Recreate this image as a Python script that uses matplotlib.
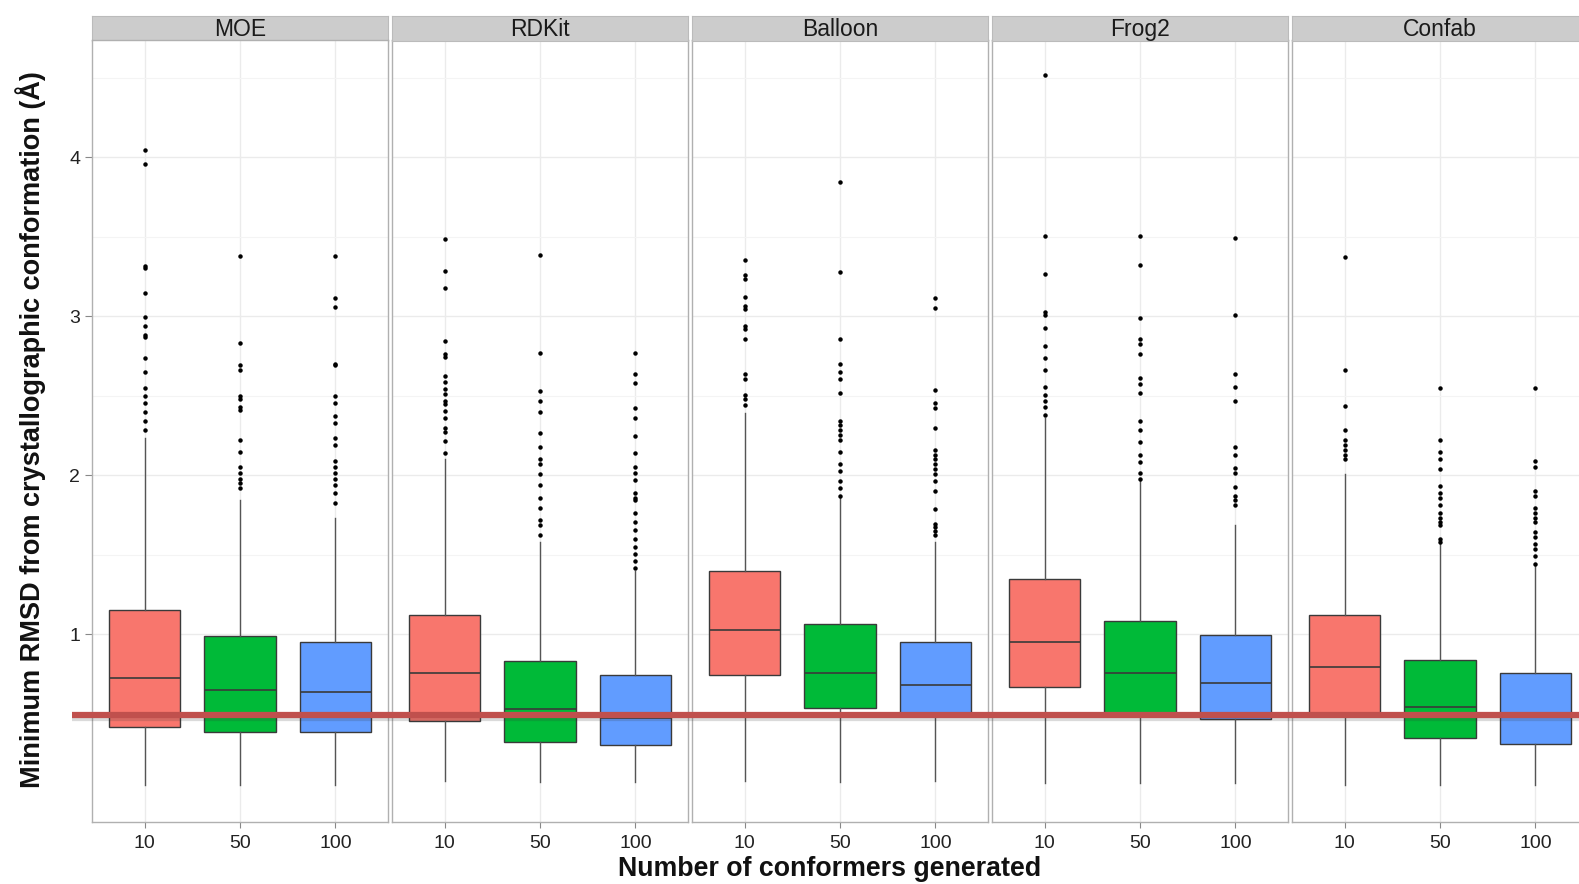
import matplotlib
matplotlib.use('Agg')
import matplotlib.pyplot as plt
import matplotlib.transforms as mtransforms
import matplotlib.patheffects as pe

plt.rcParams['font.family'] = ['Liberation Sans', 'DejaVu Sans']

methods = ['MOE', 'RDKit', 'Balloon', 'Frog2', 'Confab']
n_conf = ['10', '50', '100']
colors = ['#F8766D', '#00BA38', '#619CFF']

# box stats per method, order 10 / 50 / 100
q1 = [[0.416, 0.382, 0.382], [0.453, 0.322, 0.300], [0.742, 0.538, 0.490],
      [0.666, 0.490, 0.468], [0.490, 0.346, 0.309]]
med = [[0.721, 0.651, 0.636], [0.758, 0.529, 0.470], [1.026, 0.755, 0.681],
       [0.953, 0.755, 0.690], [0.794, 0.544, 0.480]]
q3 = [[1.154, 0.986, 0.953], [1.120, 0.831, 0.740], [1.398, 1.062, 0.947],
      [1.349, 1.084, 0.992], [1.118, 0.834, 0.752]]
whis_lo = [[0.05, 0.05, 0.05], [0.078, 0.07, 0.07], [0.078, 0.07, 0.078],
           [0.065, 0.065, 0.065], [0.05, 0.05, 0.05]]
whis_hi = [[2.236, 1.846, 1.733], [2.099, 1.581, 1.398], [2.389, 1.870, 1.581],
           [2.358, 1.968, 1.687], [2.007, 1.565, 1.428]]

moe_out = [
    [4.047, 3.958, 3.312, 3.303, 3.145, 2.992, 2.937, 2.882, 2.87, 2.739,
     2.648, 2.550, 2.495, 2.45, 2.395, 2.337, 2.282],
    [3.379, 2.83, 2.693, 2.663, 2.495, 2.48, 2.43, 2.41, 2.221, 2.145,
     2.053, 2.014, 1.977, 1.947, 1.916],
    [3.379, 3.111, 3.059, 2.70, 2.69, 2.50, 2.45, 2.373, 2.328, 2.236, 2.19,
     2.09, 2.053, 2.014, 1.977, 1.937, 1.886, 1.825],
]
rdkit_out = [
    [3.486, 3.282, 3.178, 2.846, 2.760, 2.74, 2.623, 2.587, 2.541, 2.51,
     2.465, 2.444, 2.404, 2.358, 2.297, 2.272, 2.212, 2.136],
    [3.385, 2.77, 2.526, 2.465, 2.395, 2.267, 2.175, 2.099, 2.068, 2.007,
     1.937, 1.855, 1.794, 1.718, 1.687, 1.62],
    [2.77, 2.638, 2.578, 2.419, 2.358, 2.245, 2.138, 2.053, 2.014, 1.968,
     1.886, 1.855, 1.84, 1.764, 1.703, 1.657, 1.596, 1.55, 1.504, 1.459, 1.413],
]
balloon_out = [
    [3.355, 3.257, 3.236, 3.12, 3.065, 3.044, 2.937, 2.916, 2.855, 2.638,
     2.602, 2.501, 2.48, 2.443],
    [3.843, 3.279, 2.855, 2.70, 2.648, 2.602, 2.516, 2.343, 2.312, 2.282,
     2.252, 2.221, 2.145, 2.068, 2.023, 1.962, 1.916, 1.87],
    [3.114, 3.053, 2.532, 2.45, 2.419, 2.297, 2.16, 2.129, 2.099, 2.068,
     2.038, 2.007, 1.962, 1.901, 1.785, 1.694, 1.672, 1.651, 1.626],
]
frog2_out = [
    [4.516, 3.501, 3.264, 3.023, 3.008, 2.922, 2.809, 2.733, 2.663, 2.556,
     2.501, 2.465, 2.425, 2.379],
    [3.501, 3.318, 2.989, 2.855, 2.821, 2.760, 2.608, 2.572, 2.516, 2.343,
     2.282, 2.206, 2.129, 2.084, 2.014, 1.977],
    [3.492, 3.004, 2.638, 2.556, 2.465, 2.175, 2.129, 2.044, 2.014, 1.925,
     1.87, 1.84, 1.81],
]
confab_out = [
    [3.37, 2.663, 2.435, 2.282, 2.221, 2.19, 2.16, 2.129, 2.099],
    [2.547, 2.221, 2.145, 2.099, 2.038, 1.931, 1.886, 1.855, 1.81, 1.764,
     1.733, 1.703, 1.687, 1.596, 1.581],
    [2.547, 2.09, 2.053, 1.901, 1.87, 1.794, 1.764, 1.733, 1.703, 1.642,
     1.611, 1.565, 1.535, 1.489, 1.443],
]
outliers = [moe_out, rdkit_out, balloon_out, frog2_out, confab_out]

ref_line = 0.49

W, H = 1579, 884
fig = plt.figure(figsize=(W / 100, H / 100), dpi=100)

axes = []
for i, name in enumerate(methods):
    left = 92 + i * 300
    ax = fig.add_axes([left / W, (H - 822) / H, 296 / W, (822 - 40) / H])
    axes.append(ax)

    stats = []
    for j in range(3):
        stats.append(dict(med=med[i][j], q1=q1[i][j], q3=q3[i][j],
                          whislo=whis_lo[i][j], whishi=whis_hi[i][j],
                          fliers=outliers[i][j]))
    bp = ax.bxp(stats, positions=[1, 2, 3], widths=0.75, patch_artist=True,
                showcaps=False,
                boxprops=dict(edgecolor='#3a3a3a', linewidth=1.0),
                medianprops=dict(color='#3a3a3a', linewidth=1.2),
                whiskerprops=dict(color='#555555', linewidth=1.0),
                flierprops=dict(marker='o', markersize=2.2, markerfacecolor='black',
                                markeredgecolor='black', linestyle='none'))
    for patch, c in zip(bp['boxes'], colors):
        patch.set_facecolor(c)

    ax.set_xlim(0.45, 3.55)
    ax.set_ylim(-0.182, 4.736)
    ax.set_yticks([1, 2, 3, 4])
    ax.set_yticks([0.5, 1.5, 2.5, 3.5, 4.5], minor=True)
    ax.set_xticks([1, 2, 3])
    ax.set_xticklabels(n_conf, fontsize=14, color='#222222')
    ax.grid(True, which='major', color='#EBEBEB', linewidth=1.0)
    ax.grid(True, which='minor', axis='y', color='#F4F4F4', linewidth=0.8)
    ax.set_axisbelow(True)
    ax.tick_params(axis='x', length=4, color='#888888', pad=5)
    ax.tick_params(axis='y', which='minor', length=0)
    if i == 0:
        ax.tick_params(axis='y', length=5, color='#888888', labelsize=14,
                       labelcolor='#222222')
    else:
        ax.tick_params(axis='y', which='both', length=0, labelleft=False)
    for sp in ax.spines.values():
        sp.set_color('#B0B0B0')
        sp.set_linewidth(1.0)

    # facet strip
    sax = fig.add_axes([left / W, (H - 40.5) / H, 296 / W, 24.5 / H])
    sax.set_facecolor('#CCCCCC')
    sax.set_xticks([])
    sax.set_yticks([])
    for sp in sax.spines.values():
        sp.set_color('#BBBBBB')
    sax.text(0.5, 0.45, name, ha='center', va='center', fontsize=16.5,
             color='#1a1a1a', transform=sax.transAxes)

# reference line across all panels, first panel drawn on top
axes[0].set_zorder(5)
trans = mtransforms.blended_transform_factory(fig.transFigure, axes[0].transData)
axes[0].plot([72 / W, 1.0], [ref_line, ref_line], transform=trans,
             color='#C0504D', linewidth=4.5, clip_on=False, zorder=10,
             solid_capstyle='butt',
             path_effects=[pe.SimpleLineShadow(offset=(0, -2.0), alpha=0.18,
                                               shadow_color='#333333'),
                           pe.Normal()])

fig.text(31 / W, 1 - 430 / H,
         'Minimum RMSD from crystallographic conformation (Å)',
         rotation=90, ha='center', va='center', fontsize=19.5,
         fontweight='bold', color='#111111')
fig.text(830 / W, 1 - 869 / H, 'Number of conformers generated',
         ha='center', va='center', fontsize=19.3, fontweight='bold',
         color='#111111')

fig.savefig('out.png', dpi=100)
